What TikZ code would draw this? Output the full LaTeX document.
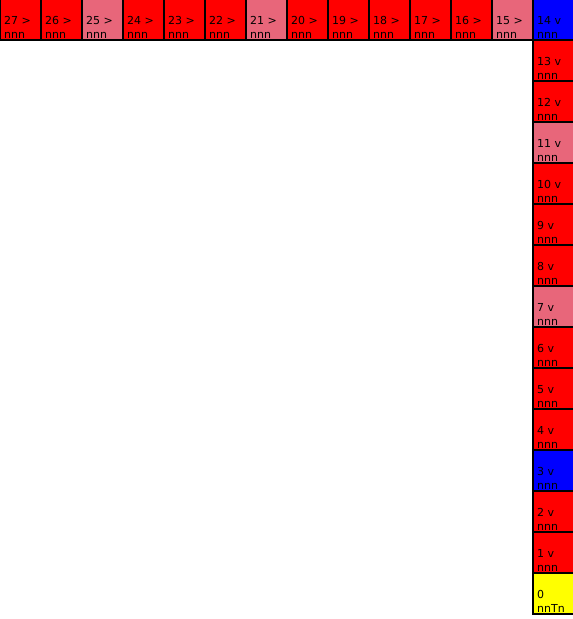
\documentclass[tikz,border=0pt]{standalone}
\usepackage{fontspec}
\setmainfont{DejaVu Sans}
\usetikzlibrary{positioning}
\definecolor{cellred}{RGB}{255,0,0}
\definecolor{cellpink}{RGB}{232,102,122}
\definecolor{cellblue}{RGB}{0,0,255}
\definecolor{cellyellow}{RGB}{255,255,0}

\begin{document}
\begin{tikzpicture}[
        x=1pt, y=1pt,
        node distance=0pt,
        cell/.style={
            rectangle,
            draw,
            line width=2pt,
            minimum size=41pt,
            inner sep=0pt,
            outer sep=0pt,
            fill=cellred
        },
        tag/.style={
            anchor=north west,
            align=left,
            inner sep=0pt,
            xshift=4pt,
            yshift=-17.5pt,
            font=\fontsize{11}{14}\selectfont
        }
    ]
        \useasboundingbox (0,0) rectangle (573,-619);

        % top row, right to left
        \node[cell, label={[tag]north west:{27 >\\nnn}}] (c27) at (20.5,-19.5) {};
        \node[cell, right=of c27, label={[tag]north west:{26 >\\nnn}}] (c26) {};
        \node[cell, right=of c26, fill=cellpink, label={[tag]north west:{25 >\\nnn}}] (c25) {};
        \node[cell, right=of c25, label={[tag]north west:{24 >\\nnn}}] (c24) {};
        \node[cell, right=of c24, label={[tag]north west:{23 >\\nnn}}] (c23) {};
        \node[cell, right=of c23, label={[tag]north west:{22 >\\nnn}}] (c22) {};
        \node[cell, right=of c22, fill=cellpink, label={[tag]north west:{21 >\\nnn}}] (c21) {};
        \node[cell, right=of c21, label={[tag]north west:{20 >\\nnn}}] (c20) {};
        \node[cell, right=of c20, label={[tag]north west:{19 >\\nnn}}] (c19) {};
        \node[cell, right=of c19, label={[tag]north west:{18 >\\nnn}}] (c18) {};
        \node[cell, right=of c18, label={[tag]north west:{17 >\\nnn}}] (c17) {};
        \node[cell, right=of c17, label={[tag]north west:{16 >\\nnn}}] (c16) {};
        \node[cell, right=of c16, fill=cellpink, label={[tag]north west:{15 >\\nnn}}] (c15) {};
        \node[cell, right=of c15, fill=cellblue, label={[tag]north west:{14 v\\nnn}}] (c14) {};

        % right column, top to bottom
        \node[cell, below=of c14, label={[tag]north west:{13 v\\nnn}}] (c13) {};
        \node[cell, below=of c13, label={[tag]north west:{12 v\\nnn}}] (c12) {};
        \node[cell, below=of c12, fill=cellpink, label={[tag]north west:{11 v\\nnn}}] (c11) {};
        \node[cell, below=of c11, label={[tag]north west:{10 v\\nnn}}] (c10) {};
        \node[cell, below=of c10, label={[tag]north west:{9 v\\nnn}}] (c9) {};
        \node[cell, below=of c9, label={[tag]north west:{8 v\\nnn}}] (c8) {};
        \node[cell, below=of c8, fill=cellpink, label={[tag]north west:{7 v\\nnn}}] (c7) {};
        \node[cell, below=of c7, label={[tag]north west:{6 v\\nnn}}] (c6) {};
        \node[cell, below=of c6, label={[tag]north west:{5 v\\nnn}}] (c5) {};
        \node[cell, below=of c5, label={[tag]north west:{4 v\\nnn}}] (c4) {};
        \node[cell, below=of c4, fill=cellblue, label={[tag]north west:{3 v\\nnn}}] (c3) {};
        \node[cell, below=of c3, label={[tag]north west:{2 v\\nnn}}] (c2) {};
        \node[cell, below=of c2, label={[tag]north west:{1 v\\nnn}}] (c1) {};
        \node[cell, below=of c1, fill=cellyellow, label={[tag]north west:{0\\nnTn}}] (c0) {};

    \end{tikzpicture}
\end{document}
